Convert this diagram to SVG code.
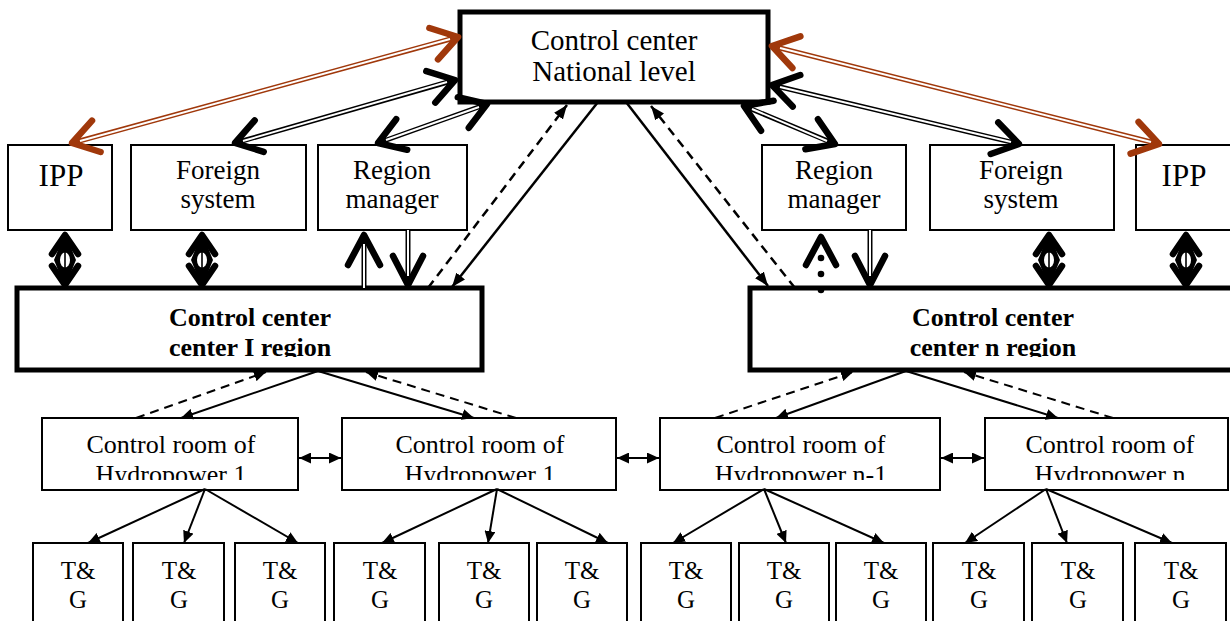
<svg xmlns="http://www.w3.org/2000/svg" xmlns:xlink="http://www.w3.org/1999/xlink" width="1230" height="621" viewBox="0 0 1230 621">
<style>
.box{fill:#fff;stroke:#000;stroke-width:2}
.thick{fill:#fff;stroke:#000;stroke-width:5}
.t{font-family:"Liberation Serif","Times New Roman",serif;text-anchor:middle;fill:#000}
.b{font-weight:bold}
.chev{fill:none;stroke:#000;stroke-width:6.5;stroke-linecap:round;stroke-linejoin:round}
.brown{stroke:#A0380B}
.sh{stroke:#000;stroke-width:5}
.shb{stroke:#A0380B;stroke-width:5}
.shw{stroke:#fff;stroke-width:2}
.ln{stroke:#000;stroke-width:2;fill:none}
.ln2{stroke:#000;stroke-width:2.5;fill:none}
.dash{stroke-dasharray:9 6}
</style>
<defs>
<marker id="ah" markerUnits="userSpaceOnUse" markerWidth="14" markerHeight="12" viewBox="0 0 14 12" refX="14" refY="6" orient="auto-start-reverse"><path d="M0,0.5 L14,6 L0,11.5 z" fill="#000"/></marker>
<marker id="ahs" markerUnits="userSpaceOnUse" markerWidth="12" markerHeight="11" viewBox="0 0 12 11" refX="12" refY="5.5" orient="auto-start-reverse"><path d="M0,0 L12,5.5 L0,11 z" fill="#000"/></marker>
<g id="dia">
<polygon points="0,0 11,27 0,54 -11,27" fill="#000"/>
<polyline class="chev" stroke-width="7" points="-13,21 0,2 13,21"/>
<polyline class="chev" stroke-width="7" points="-13,33 0,52 13,33"/>
<ellipse cx="0" cy="27" rx="5" ry="7.5" fill="#fff"/>
<line x1="0" y1="19" x2="0" y2="35" stroke="#000" stroke-width="1.6"/>
</g>
<clipPath id="clipL"><rect x="0" y="0" width="1230" height="357"/></clipPath>
<clipPath id="clipC"><rect x="0" y="0" width="1230" height="480"/></clipPath>
</defs>
<rect width="1230" height="621" fill="#fff"/>

<g id="national">
<rect class="thick" x="460" y="12" width="308" height="90"/>
<text class="t" x="614" y="50" font-size="29">Control center</text>
<text class="t" x="614" y="81" font-size="29">National level</text>
</g>

<g id="ipp-left">
<rect class="box" x="8" y="145" width="104" height="85"/>
<text class="t" x="61" y="186" font-size="31">IPP</text>
</g>
<g id="foreign-left">
<rect class="box" x="131" y="145" width="175" height="85"/>
<text class="t" x="218" y="179" font-size="27">Foreign</text>
<text class="t" x="218" y="208" font-size="27">system</text>
</g>
<g id="region-manager-left">
<rect class="box" x="318" y="145" width="149" height="85"/>
<text class="t" x="392" y="179" font-size="27">Region</text>
<text class="t" x="392" y="208" font-size="27">manager</text>
</g>
<g id="region-manager-right">
<rect class="box" x="762" y="145" width="144" height="85"/>
<text class="t" x="834" y="179" font-size="27">Region</text>
<text class="t" x="834" y="208" font-size="27">manager</text>
</g>
<g id="foreign-right">
<rect class="box" x="930" y="145" width="184" height="85"/>
<text class="t" x="1021" y="179" font-size="27">Foreign</text>
<text class="t" x="1021" y="208" font-size="27">system</text>
</g>
<g id="ipp-right">
<rect class="box" x="1136" y="145" width="100" height="85"/>
<text class="t" x="1184" y="186" font-size="31">IPP</text>
</g>

<g id="regional-1">
<rect class="thick" x="17" y="288" width="465" height="82"/>
<g clip-path="url(#clipL)">
<text class="t b" x="250" y="326" font-size="26">Control center</text>
<text class="t b" x="250" y="356" font-size="26">center I region</text>
</g>
</g>
<g id="regional-n">
<rect class="thick" x="750" y="288" width="490" height="82"/>
<g clip-path="url(#clipL)">
<text class="t b" x="993" y="326" font-size="26">Control center</text>
<text class="t b" x="993" y="356" font-size="26">center n region</text>
</g>
</g>

<g id="cr-1">
<rect class="box" x="42" y="418" width="256" height="72"/>
<text class="t" x="171" y="453" font-size="26">Control room of</text>
<text class="t" x="171" y="483" font-size="26" clip-path="url(#clipC)">Hydropower 1</text>
</g>
<g id="cr-2">
<rect class="box" x="342" y="418" width="274" height="72"/>
<text class="t" x="480" y="453" font-size="26">Control room of</text>
<text class="t" x="480" y="483" font-size="26" clip-path="url(#clipC)">Hydropower 1</text>
</g>
<g id="cr-3">
<rect class="box" x="660" y="418" width="280" height="72"/>
<text class="t" x="801" y="453" font-size="26">Control room of</text>
<text class="t" x="801" y="483" font-size="26" clip-path="url(#clipC)">Hydropower n-1</text>
</g>
<g id="cr-4">
<rect class="box" x="985" y="418" width="243" height="72"/>
<text class="t" x="1110" y="453" font-size="26">Control room of</text>
<text class="t" x="1110" y="483" font-size="26" clip-path="url(#clipC)">Hydropower n</text>
</g>

<g id="tg-1"><rect class="box" x="33" y="543" width="90" height="82"/><text class="t" x="78" y="579" font-size="25">T&amp;</text><text class="t" x="78" y="608" font-size="25">G</text></g>
<g id="tg-2"><rect class="box" x="133" y="543" width="91" height="82"/><text class="t" x="179" y="579" font-size="25">T&amp;</text><text class="t" x="179" y="608" font-size="25">G</text></g>
<g id="tg-3"><rect class="box" x="235" y="543" width="90" height="82"/><text class="t" x="280" y="579" font-size="25">T&amp;</text><text class="t" x="280" y="608" font-size="25">G</text></g>
<g id="tg-4"><rect class="box" x="334" y="543" width="91" height="82"/><text class="t" x="380" y="579" font-size="25">T&amp;</text><text class="t" x="380" y="608" font-size="25">G</text></g>
<g id="tg-5"><rect class="box" x="439" y="543" width="90" height="82"/><text class="t" x="484" y="579" font-size="25">T&amp;</text><text class="t" x="484" y="608" font-size="25">G</text></g>
<g id="tg-6"><rect class="box" x="537" y="543" width="90" height="82"/><text class="t" x="582" y="579" font-size="25">T&amp;</text><text class="t" x="582" y="608" font-size="25">G</text></g>
<g id="tg-7"><rect class="box" x="641" y="543" width="90" height="82"/><text class="t" x="686" y="579" font-size="25">T&amp;</text><text class="t" x="686" y="608" font-size="25">G</text></g>
<g id="tg-8"><rect class="box" x="739" y="543" width="90" height="82"/><text class="t" x="784" y="579" font-size="25">T&amp;</text><text class="t" x="784" y="608" font-size="25">G</text></g>
<g id="tg-9"><rect class="box" x="836" y="543" width="90" height="82"/><text class="t" x="881" y="579" font-size="25">T&amp;</text><text class="t" x="881" y="608" font-size="25">G</text></g>
<g id="tg-10"><rect class="box" x="933" y="543" width="91" height="82"/><text class="t" x="979" y="579" font-size="25">T&amp;</text><text class="t" x="979" y="608" font-size="25">G</text></g>
<g id="tg-11"><rect class="box" x="1032" y="543" width="91" height="82"/><text class="t" x="1078" y="579" font-size="25">T&amp;</text><text class="t" x="1078" y="608" font-size="25">G</text></g>
<g id="tg-12"><rect class="box" x="1135" y="543" width="91" height="82"/><text class="t" x="1181" y="579" font-size="25">T&amp;</text><text class="t" x="1181" y="608" font-size="25">G</text></g>

<g id="connectors">
<!-- brown left -->
<line class="shb" x1="72" y1="143" x2="458" y2="37"/>
<line class="shw" x1="80" y1="141" x2="450" y2="39"/>
<polyline class="chev brown" points="438,59.4 458,37 429.4,28"/>
<polyline class="chev brown" points="100.6,152 72,143 92,120.6"/>
<!-- foreign left -->
<line class="sh" x1="235" y1="143" x2="455" y2="80"/>
<line class="shw" x1="243" y1="141" x2="447" y2="82"/>
<polyline class="chev" points="435.3,102.6 455,80 426.3,71.2"/>
<polyline class="chev" points="263.7,151.8 235,143 254.7,120.4"/>
<!-- region manager left -->
<line class="sh" x1="378" y1="143" x2="487" y2="104"/>
<line class="shw" x1="386" y1="140" x2="479" y2="107"/>
<polyline class="chev" points="468.8,127.8 487,104 457.8,97.2"/>
<polyline class="chev" points="407.2,149.8 378,143 396.2,119.2"/>
<!-- region manager right -->
<line class="sh" x1="744" y1="106" x2="835" y2="144"/>
<line class="shw" x1="752" y1="109" x2="827" y2="141"/>
<polyline class="chev" points="805.4,149.3 835,144 818,119.3"/>
<polyline class="chev" points="761,130.7 744,106 773.6,100.7"/>
<!-- foreign right -->
<line class="sh" x1="772" y1="85" x2="1019" y2="144"/>
<line class="shw" x1="780" y1="87" x2="1011" y2="142"/>
<polyline class="chev" points="990.7,154 1019,144 998.3,122.4"/>
<polyline class="chev" points="792.7,106.6 772,85 800.3,75"/>
<!-- brown right -->
<line class="shb" x1="772" y1="46" x2="1159" y2="144"/>
<line class="shw" x1="780" y1="48" x2="1151" y2="142"/>
<polyline class="chev brown" points="1130.6,153.6 1159,144 1138.6,122"/>
<polyline class="chev brown" points="792.4,68 772,46 800.4,36.4"/>

<!-- diamond double arrows -->
<use xlink:href="#dia" x="65" y="233"/>
<use xlink:href="#dia" x="202" y="233"/>
<use xlink:href="#dia" x="1049" y="233"/>
<use xlink:href="#dia" x="1186" y="233"/>

<!-- region manager vertical arrows -->
<line class="sh" x1="364" y1="288" x2="364" y2="238"/>
<line class="shw" x1="364" y1="288" x2="364" y2="244"/>
<polyline class="chev" points="348,265 364,235 380,265"/>
<line class="sh" x1="408" y1="230" x2="408" y2="282"/>
<line class="shw" x1="408" y1="230" x2="408" y2="276"/>
<polyline class="chev" points="393,256 408,285 423,256"/>
<polyline class="chev" points="806,265 821,237 836,265"/>
<circle cx="821" cy="258" r="3.3"/>
<circle cx="821" cy="274" r="3.3"/>
<circle cx="821" cy="290" r="3.3"/>
<line class="sh" x1="870" y1="230" x2="870" y2="282"/>
<line class="shw" x1="870" y1="230" x2="870" y2="276"/>
<polyline class="chev" points="855,256 870,285 885,256"/>

<!-- national <-> regional -->
<line class="ln2" x1="598" y1="102" x2="452" y2="287" marker-end="url(#ah)"/>
<line class="ln2 dash" x1="428" y1="288" x2="567" y2="105" marker-end="url(#ah)"/>
<line class="ln2" x1="626" y1="102" x2="768" y2="286" marker-end="url(#ah)"/>
<line class="ln2 dash" x1="795" y1="288" x2="651" y2="106" marker-end="url(#ah)"/>

<!-- regional <-> control rooms -->
<line class="ln" x1="318" y1="371" x2="181" y2="418" marker-end="url(#ahs)"/>
<line class="ln" x1="318" y1="371" x2="474" y2="418" marker-end="url(#ahs)"/>
<line class="ln dash" x1="136" y1="418" x2="266" y2="372" marker-end="url(#ahs)"/>
<line class="ln dash" x1="516" y1="418" x2="366" y2="372" marker-end="url(#ahs)"/>
<line class="ln" x1="906" y1="371" x2="776" y2="418" marker-end="url(#ahs)"/>
<line class="ln" x1="906" y1="371" x2="1058" y2="418" marker-end="url(#ahs)"/>
<line class="ln dash" x1="715" y1="418" x2="853" y2="372" marker-end="url(#ahs)"/>
<line class="ln dash" x1="1113" y1="418" x2="964" y2="372" marker-end="url(#ahs)"/>

<!-- control room <-> control room -->
<line class="ln" x1="299" y1="458" x2="341" y2="458" marker-start="url(#ahs)" marker-end="url(#ahs)"/>
<line class="ln" x1="617" y1="458" x2="659" y2="458" marker-start="url(#ahs)" marker-end="url(#ahs)"/>
<line class="ln" x1="941" y1="458" x2="984" y2="458" marker-start="url(#ahs)" marker-end="url(#ahs)"/>

<!-- control room -> T&G -->
<line class="ln" x1="205" y1="489" x2="88" y2="543" marker-end="url(#ahs)"/>
<line class="ln" x1="205" y1="489" x2="184" y2="543" marker-end="url(#ahs)"/>
<line class="ln" x1="205" y1="489" x2="298" y2="543" marker-end="url(#ahs)"/>
<line class="ln" x1="497" y1="489" x2="382" y2="543" marker-end="url(#ahs)"/>
<line class="ln" x1="497" y1="489" x2="488" y2="543" marker-end="url(#ahs)"/>
<line class="ln" x1="497" y1="489" x2="608" y2="543" marker-end="url(#ahs)"/>
<line class="ln" x1="764" y1="489" x2="673" y2="543" marker-end="url(#ahs)"/>
<line class="ln" x1="764" y1="489" x2="786" y2="543" marker-end="url(#ahs)"/>
<line class="ln" x1="764" y1="489" x2="884" y2="543" marker-end="url(#ahs)"/>
<line class="ln" x1="1046" y1="489" x2="965" y2="543" marker-end="url(#ahs)"/>
<line class="ln" x1="1046" y1="489" x2="1067" y2="543" marker-end="url(#ahs)"/>
<line class="ln" x1="1046" y1="489" x2="1172" y2="543" marker-end="url(#ahs)"/>
</g>
</svg>
